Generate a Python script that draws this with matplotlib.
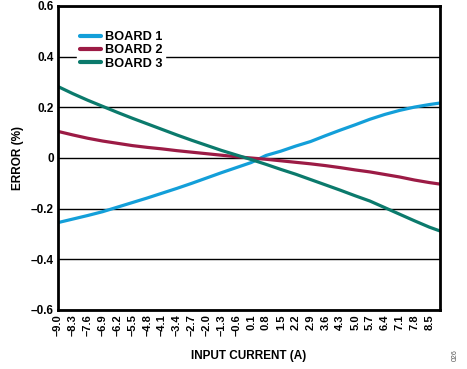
import matplotlib
matplotlib.use("Agg")
import matplotlib.pyplot as plt
import numpy as np

plt.rcParams['font.family'] = ['Liberation Sans', 'DejaVu Sans']
plt.rcParams['font.weight'] = 'bold'

current = [-9.0, -8.3, -7.6, -6.9, -6.2, -5.5, -4.8, -4.1, -3.4, -2.7, -2.0, -1.3, -0.6,
           0.1, 0.8, 1.5, 2.2, 2.9, 3.6, 4.3, 5.0, 5.7, 6.4, 7.1, 7.8, 8.5, 9.0]
board1 = [-0.255, -0.241, -0.227, -0.212, -0.194, -0.176, -0.158, -0.139, -0.120, -0.100,
          -0.079, -0.058, -0.038, -0.018, 0.010, 0.027, 0.047, 0.065, 0.088, 0.110, 0.131,
          0.153, 0.172, 0.188, 0.201, 0.211, 0.217]
board2 = [0.105, 0.091, 0.078, 0.067, 0.058, 0.049, 0.042, 0.036, 0.029, 0.023, 0.017,
          0.011, 0.005, 0.000, -0.005, -0.011, -0.017, -0.023, -0.030, -0.038, -0.047,
          -0.055, -0.065, -0.075, -0.087, -0.097, -0.103]
board3 = [0.282, 0.254, 0.228, 0.204, 0.180, 0.157, 0.135, 0.113, 0.091, 0.070, 0.050,
          0.030, 0.012, -0.006, -0.025, -0.045, -0.064, -0.085, -0.106, -0.127, -0.149,
          -0.170, -0.196, -0.222, -0.248, -0.273, -0.288]
series_names = ["BOARD 1", "BOARD 2", "BOARD 3"]
xtick_vals = [-9.0, -8.3, -7.6, -6.9, -6.2, -5.5, -4.8, -4.1, -3.4, -2.7, -2.0, -1.3, -0.6,
              0.1, 0.8, 1.5, 2.2, 2.9, 3.6, 4.3, 5.0, 5.7, 6.4, 7.1, 7.8, 8.5]
ytick_vals = [-0.6, -0.4, -0.2, 0, 0.2, 0.4, 0.6]

colors = ["#139fd9", "#9c1b45", "#0b7a6c"]

def fmt(v, nd=1):
    s = f"{abs(v):.{nd}f}"
    return ("\u2013" + s) if v < 0 else s

fig = plt.figure(figsize=(4.67, 3.69), dpi=100)
ax = fig.add_axes([58/467, 1-310/369, 382/467, 304/369])

for ys, c, n in zip([board1, board2, board3], colors, series_names):
    ax.plot(current, ys, color=c, lw=2.3, label=n, solid_capstyle='round')

ax.set_xlim(-9.0, 9.0)
ax.set_ylim(-0.6, 0.6)
ax.set_yticks(ytick_vals)
ax.set_yticklabels([("0" if v == 0 else fmt(v)) for v in ytick_vals], fontsize=8.5, fontweight='bold')
ax.set_xticks(xtick_vals)
ax.set_xticklabels([fmt(v) for v in xtick_vals], rotation=90, fontsize=8, fontweight='bold')
ax.tick_params(axis='both', length=0, pad=3)
ax.yaxis.grid(True, color='black', lw=1)
ax.set_axisbelow(True)
for s in ax.spines.values():
    s.set_linewidth(2)

ax.set_xlabel("INPUT CURRENT (A)", fontsize=8.5, fontweight='bold', labelpad=10)
ax.set_ylabel("ERROR (%)", fontsize=8.5, fontweight='bold', labelpad=5)

leg = ax.legend(loc='upper left', bbox_to_anchor=(0.05, 0.928), frameon=True,
                fontsize=9.2, handlelength=1.6, handletextpad=0.3, labelspacing=0.1,
                borderpad=0.25, borderaxespad=0, fancybox=False)
leg.get_frame().set_facecolor('white')
leg.get_frame().set_edgecolor('white')
leg.get_frame().set_alpha(1)
for line in leg.get_lines():
    line.set_linewidth(3)
for t in leg.get_texts():
    t.set_fontweight('bold')

fig.text(455/467, 1-355/369, "026", rotation=90, fontsize=5, color='#555555',
         ha='center', va='center', fontweight='normal')

fig.savefig("out.png", dpi=100)
